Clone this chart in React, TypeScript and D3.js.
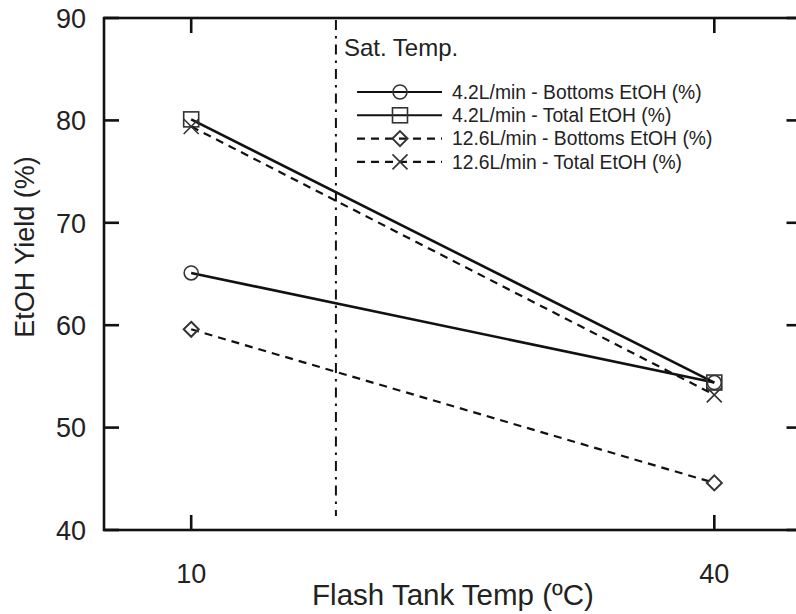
import React from "react";
import * as d3 from "d3";

const temps = [10, 40];
const bottoms42 = [65.1, 54.4];
const total42 = [80.1, 54.4];
const bottoms126 = [59.6, 44.6];
const total126 = [79.4, 53.2];
const seriesNames = [
  "4.2L/min - Bottoms EtOH (%)",
  "4.2L/min - Total EtOH (%)",
  "12.6L/min - Bottoms EtOH (%)",
  "12.6L/min - Total EtOH (%)",
];
const xTicks = [10, 40];
const yTicks = [40, 50, 60, 70, 80, 90];
const satTemp = 18.3;

const W = 796;
const H = 614;
const FONT = "'Liberation Sans', Arial, sans-serif";

const x = d3.scaleLinear().domain([5, 45]).range([104, 801.5]);
const y = d3.scaleLinear().domain([40, 90]).range([530, 18]);

type Marker = "circle" | "square" | "diamond" | "cross";

function MarkerShape({ kind, cx, cy }: { kind: Marker; cx: number; cy: number }) {
  const s = 7.5;
  const common = { fill: "none", stroke: "#333", strokeWidth: 1.6 };
  if (kind === "circle") return <circle cx={cx} cy={cy} r={7} {...common} />;
  if (kind === "square")
    return <rect x={cx - s} y={cy - s} width={2 * s} height={2 * s} {...common} />;
  if (kind === "diamond")
    return (
      <path
        d={`M${cx},${cy - s}L${cx + s},${cy}L${cx},${cy + s}L${cx - s},${cy}Z`}
        {...common}
        strokeWidth={2}
      />
    );
  return (
    <path
      d={`M${cx - s},${cy - s}L${cx + s},${cy + s}M${cx - s},${cy + s}L${cx + s},${cy - s}`}
      {...common}
    />
  );
}

const series = [
  { name: seriesNames[0], values: bottoms42, marker: "circle" as Marker, dash: undefined, width: 2.6 },
  { name: seriesNames[1], values: total42, marker: "square" as Marker, dash: undefined, width: 2.6 },
  { name: seriesNames[2], values: bottoms126, marker: "diamond" as Marker, dash: "8,6", width: 2.2 },
  { name: seriesNames[3], values: total126, marker: "cross" as Marker, dash: "8,6", width: 2.2 },
];

export default function App() {
  const line = d3
    .line<[number, number]>()
    .x((d) => x(d[0]))
    .y((d) => y(d[1]));
  const x0 = x.range()[0];
  const x1 = x.range()[1];
  const y0 = y.range()[0];
  const y1 = y.range()[1];
  const tl = 15;
  const legX = 357;
  const legY = 92;
  const legStep = 23.3;
  return (
    <svg
      width={W}
      height={H}
      style={{ position: "absolute", left: 0, top: 0, background: "#fff" }}
      fontFamily={FONT}
    >
      <rect x={0} y={0} width={W} height={H} fill="#fff" />
      {/* Saturation temperature line */}
      <line
        x1={x(satTemp)}
        x2={x(satTemp)}
        y1={y1 + 2}
        y2={y0 - 14}
        stroke="#111"
        strokeWidth={2}
        strokeDasharray="10,6,2.5,6"
      />
      <text x={x(satTemp) + 8} y={56} fontSize={24} fill="#222">
        Sat. Temp.
      </text>
      {/* series */}
      {series.map((s, i) => (
        <g key={i}>
          <path
            d={line(temps.map((t, j) => [t, s.values[j]]) as [number, number][]) || ""}
            fill="none"
            stroke="#111"
            strokeWidth={s.width}
            strokeDasharray={s.dash}
          />
          {temps.map((t, j) => (
            <MarkerShape key={j} kind={s.marker} cx={x(t)} cy={y(s.values[j])} />
          ))}
        </g>
      ))}
      {/* legend */}
      {series.map((s, i) => {
        const ly = legY + i * legStep;
        return (
          <g key={"l" + i}>
            <line
              x1={legX}
              x2={legX + 85}
              y1={ly}
              y2={ly}
              stroke="#111"
              strokeWidth={s.dash ? 2.2 : 2}
              strokeDasharray={s.dash ? "8,6" : undefined}
            />
            <MarkerShape kind={s.marker} cx={legX + 43} cy={ly} />
            <text x={legX + 95} y={ly} dy="0.35em" fontSize={19.3} fill="#222">
              {s.name}
            </text>
          </g>
        );
      })}
      {/* frame */}
      <rect x={x0} y={y1} width={x1 - x0} height={y0 - y1} fill="none" stroke="#111" strokeWidth={2.6} />
      {/* y ticks */}
      {yTicks.map((t) => (
        <g key={"y" + t}>
          <line x1={x0} x2={x0 + tl} y1={y(t)} y2={y(t)} stroke="#111" strokeWidth={2.6} />
          <line x1={x1} x2={x1 - tl} y1={y(t)} y2={y(t)} stroke="#111" strokeWidth={2.6} />
          <text x={86} y={y(t)} dy="0.36em" textAnchor="end" fontSize={27} fill="#222">
            {t}
          </text>
        </g>
      ))}
      {/* x ticks */}
      {xTicks.map((t) => (
        <g key={"x" + t}>
          <line x1={x(t)} x2={x(t)} y1={y0} y2={y0 - tl} stroke="#111" strokeWidth={2.6} />
          <line x1={x(t)} x2={x(t)} y1={y1} y2={y1 + tl} stroke="#111" strokeWidth={2.6} />
          <text x={x(t)} y={583} textAnchor="middle" fontSize={27} fill="#222">
            {t}
          </text>
        </g>
      ))}
      <text x={453} y={605} textAnchor="middle" fontSize={29.5} fill="#222">
        Flash Tank Temp (ºC)
      </text>
      <text
        transform={`translate(34,247) rotate(-90)`}
        textAnchor="middle"
        fontSize={27}
        fill="#222"
      >
        EtOH Yield (%)
      </text>
    </svg>
  );
}
